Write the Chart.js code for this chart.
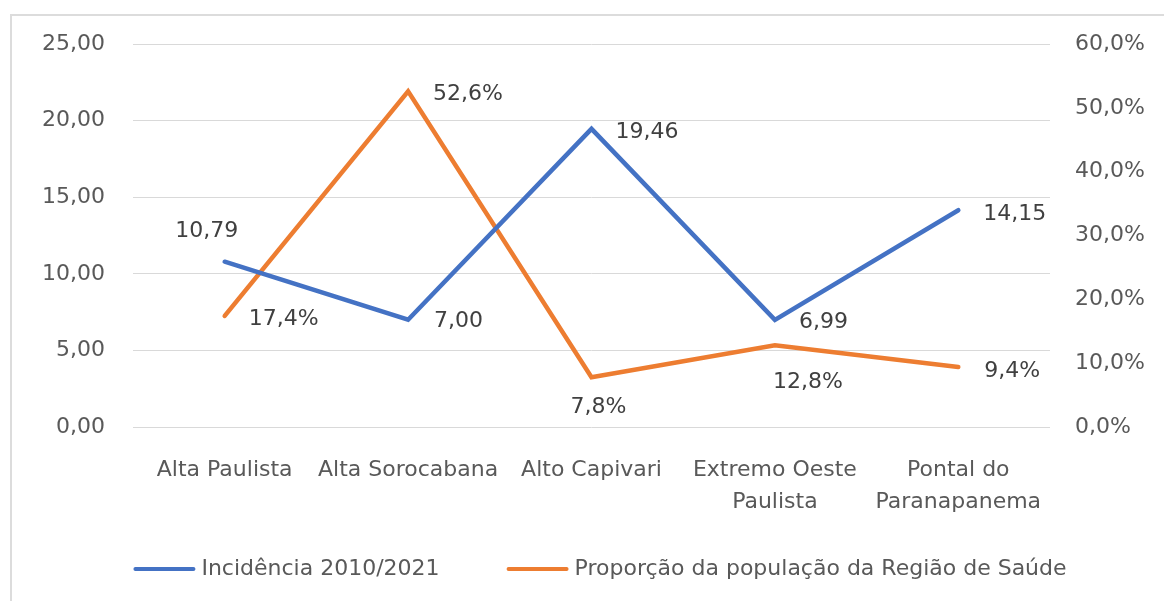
<!DOCTYPE html>
<html>
<head>
<meta charset="utf-8">
<script src="https://cdn.jsdelivr.net/npm/chart.js@4.4.1/dist/chart.umd.min.js"></script>
<style>
  body { margin: 0; background: #fff; }
  #moldura {
    position: absolute; left: 10px; top: 14px;
    width: 1170px; height: 600px;
    border: 2px solid #dcdcdc;
  }
  #grafico { position: absolute; left: 0; top: 0; }
</style>
</head>
<body>
<div id="moldura"></div>
<canvas id="grafico" width="1164" height="601"></canvas>
<script>
// ================================
// DADOS
// ================================
const regioes = [
    "Alta Paulista",
    "Alta Sorocabana",
    "Alto Capivari",
    ["Extremo Oeste", "Paulista"],
    ["Pontal do", "Paranapanema"]
];
const incidencia = [10.79, 7.00, 19.46, 6.99, 14.15];
const proporcao = [17.4, 52.6, 7.8, 12.8, 9.4];   // em %

const ticksIncidencia = [0, 5, 10, 15, 20, 25];
const ticksProporcao = [0, 10, 20, 30, 40, 50, 60];

const fonte = "'DejaVu Sans', Verdana, sans-serif";

// deslocamento de cada rótulo em relação ao ponto [dx, dy, alinhamento]
const posRotulos = [
    [[-18, -30, "center"], [26, 2, "left"], [24, 3, "left"], [24, 2, "left"], [25, 4, "left"]],
    [[24, 3, "left"], [25, 3, "left"], [7, 30, "center"], [33, 37, "center"], [26, 4, "left"]]
];

function virgula(v, casas) {
    return v.toFixed(casas).replace(".", ",");
}

// ================================
// RÓTULOS DE DADOS
// ================================
const rotulosPlugin = {
    id: "rotulos",
    afterDatasetsDraw(chart) {
        const ctx = chart.ctx;
        ctx.save();
        ctx.font = "22px " + fonte;
        ctx.fillStyle = "#404040";
        ctx.textBaseline = "middle";
        chart.data.datasets.forEach((ds, i) => {
            const meta = chart.getDatasetMeta(i);
            meta.data.forEach((pt, j) => {
                const p = posRotulos[i][j];
                const txt = i === 0 ? virgula(ds.data[j], 2) : virgula(ds.data[j], 1) + "%";
                ctx.textAlign = p[2];
                ctx.fillText(txt, pt.x + p[0], pt.y + p[1]);
            });
        });
        ctx.restore();
    }
};

// ================================
// LEGENDA
// ================================
const legendaPlugin = {
    id: "legenda",
    afterDraw(chart) {
        const ctx = chart.ctx;
        ctx.save();
        ctx.font = "22px " + fonte;
        ctx.textBaseline = "middle";
        const linha = 62, espaco = 6, entre = 67, y = 569;
        const itens = chart.data.datasets.map(ds => ({
            cor: ds.borderColor, txt: ds.label,
            w: linha + espaco + ctx.measureText(ds.label).width
        }));
        const total = itens.reduce((s, it) => s + it.w, 0) + entre * (itens.length - 1);
        let x = 600 - total / 2;
        itens.forEach(it => {
            ctx.strokeStyle = it.cor;
            ctx.lineWidth = 4;
            ctx.lineCap = "round";
            ctx.beginPath();
            ctx.moveTo(x + 2, y);
            ctx.lineTo(x + linha - 2, y);
            ctx.stroke();
            ctx.fillStyle = "#595959";
            ctx.textAlign = "left";
            ctx.fillText(it.txt, x + linha + espaco, y);
            x += it.w + entre;
        });
        ctx.restore();
    }
};

new Chart(document.getElementById("grafico"), {
    type: "line",
    data: {
        labels: regioes,
        datasets: [{
            label: "Incidência 2010/2021",
            data: incidencia,
            borderColor: "#4472C4",
            backgroundColor: "#4472C4",
            borderWidth: 4.5,
            borderCapStyle: "round",
            pointRadius: 0,
            yAxisID: "y"
        }, {
            label: "Proporção da população da Região de Saúde",
            data: proporcao,
            borderColor: "#ED7D31",
            backgroundColor: "#ED7D31",
            borderWidth: 4.5,
            borderCapStyle: "round",
            pointRadius: 0,
            yAxisID: "y1"
        }]
    },
    options: {
        responsive: false,
        animation: false,
        layout: { padding: { top: 44, left: 0, right: 0, bottom: 0 } },
        plugins: {
            legend: { display: false },
            tooltip: { enabled: false }
        },
        scales: {
            x: {
                offset: true,
                grid: { display: false, drawTicks: false },
                border: { display: false },
                ticks: {
                    padding: 27,
                    maxRotation: 0, minRotation: 0,
                    color: "#595959",
                    font: { family: fonte, size: 22, lineHeight: 1.45 }
                },
                afterFit: s => { s.height = 174; }
            },
            y: {
                position: "left",
                min: 0, max: 25,
                afterBuildTicks: s => { s.ticks = ticksIncidencia.map(v => ({ value: v })); },
                grid: { color: "#d9d9d9", lineWidth: 1, drawTicks: false },
                border: { display: false },
                ticks: {
                    padding: 28,
                    color: "#595959",
                    font: { family: fonte, size: 22 },
                    callback: v => virgula(v, 2)
                },
                afterFit: s => { s.width = 133; }
            },
            y1: {
                position: "right",
                min: 0, max: 60,
                afterBuildTicks: s => { s.ticks = ticksProporcao.map(v => ({ value: v })); },
                grid: { display: false, drawTicks: false },
                border: { display: false },
                ticks: {
                    padding: 25,
                    color: "#595959",
                    font: { family: fonte, size: 22 },
                    callback: v => virgula(v, 1) + "%"
                },
                afterFit: s => { s.width = 114; }
            }
        }
    },
    plugins: [rotulosPlugin, legendaPlugin]
});
</script>
</body>
</html>
